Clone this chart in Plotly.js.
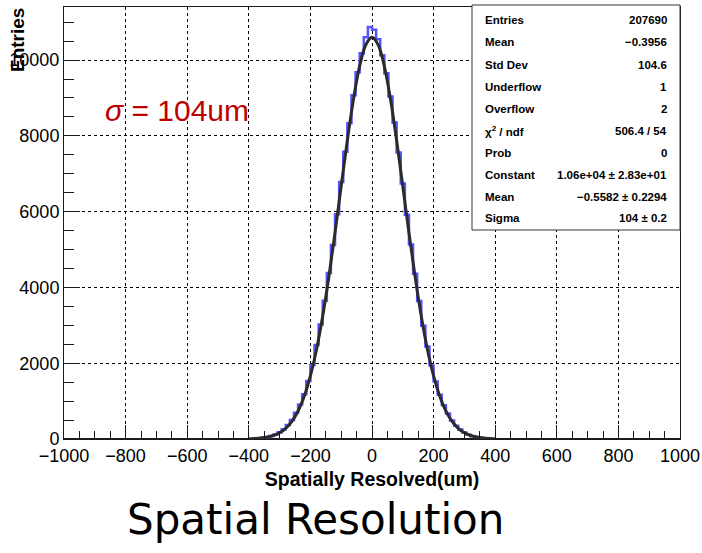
<!DOCTYPE html>
<html>
<head>
<meta charset="utf-8">
<script src="https://cdn.plot.ly/plotly-3.0.1.min.js"></script>
<style>
html,body{margin:0;padding:0;background:#fff;}
#chart{width:702px;height:553px;}
</style>
</head>
<body>
<div id="chart"></div>
<script>
// ---- histogram definition (TH1: 150 bins from -1000 to 1000) ----
const nBins = 150;
const xMin = -1000;
const xMax = 1000;
const firstFilledBin = 46; // index of first non-empty bin (centre -380)
// contents of the non-empty bins (centres -380 ... +380)
const binCounts = [
  10, 18, 30, 45, 80, 120, 180, 260, 370, 500,
  690, 910, 1180, 1530, 1950, 2480, 3020, 3650, 4380, 5120,
  5930, 6780, 7580, 8330, 9070, 9680, 10180, 10600, 10870,
  10800, 10550, 10130, 9650, 9040, 8350, 7560, 6740, 5920,
  5130, 4360, 3640, 2990, 2440, 1940, 1520, 1170, 890, 670,
  490, 350, 250, 170, 115, 75, 50, 30, 20, 12
];

// ---- gaussian fit curve ----
const fitX = [-400,-380,-360,-340,-320,-300,-280,-260,-240,-220,-200,-180,-160,-140,-120,-100,-80,-60,-40,-20,
              0,20,40,60,80,100,120,140,160,180,200,220,240,260,280,300,320,340,360,380,400];
const fitY = [6,13,27,51,93,165,283,466,739,1131,1668,2370,3246,4283,5447,6676,7885,8975,9844,10406,
              10600,10400,9840,8970,7880,6670,5440,4280,3240,2365,1665,1128,737,465,282,164,93,51,27,13,6];

// ---- axes ----
const xTicks = [-1000,-800,-600,-400,-200,0,200,400,600,800,1000];
const yTicks = [0,2000,4000,6000,8000,10000];
const yMaxRange = 11400;

// ---- stats box ----
const statLabels = ["Entries","Mean","Std Dev","Underflow","Overflow","χ<sup>2</sup> / ndf","Prob","Constant","Mean","Sigma"];
const statValues = ["207690","−0.3956","104.6","1","2","506.4 / 54","0","1.06e+04 ± 2.83e+01","−0.5582 ± 0.2294","104 ± 0.2"];

const sigmaText = "<i>σ</i> = 104um";
const xTitle = "Spatially Resolved(um)";
const yTitle = "Entries";
const caption = "Spatial Resolution";

// build histogram outline over the filled range (one empty bin either side)
const binW = (xMax - xMin) / nBins;
const hx = [], hy = [];
for (let i = firstFilledBin - 1; i <= firstFilledBin + binCounts.length; i++) {
  hx.push(xMin + (i + 0.5) * binW);
  const j = i - firstFilledBin;
  hy.push(j >= 0 && j < binCounts.length ? binCounts[j] : 0);
}

// layout geometry (pixels)
const W = 702, H = 553;
const L = 64, R = 22, T = 7, B = 114;
const pw = W - L - R, ph = H - T - B;
const px = v => (v - L) / pw;
const py = v => (H - B - v) / ph;

const boldFont = "Liberation Sans, Arial, sans-serif";

const annotations = [];
const rowY = [20, 42, 64.5, 86.5, 108.5, 130.5, 152.5, 174.5, 196.5, 218];
for (let i = 0; i < statLabels.length; i++) {
  annotations.push({xref:'paper', yref:'paper', x:px(483), y:py(rowY[i]), xanchor:'left', yanchor:'middle',
    text:'<b>'+statLabels[i]+'</b>', showarrow:false, font:{family:boldFont, size:11.5, color:'#000'}});
  annotations.push({xref:'paper', yref:'paper', x:px(669), y:py(rowY[i]), xanchor:'right', yanchor:'middle',
    text:'<b>'+statValues[i]+'</b>', showarrow:false, font:{family:boldFont, size:11.5, color:'#000'}});
}
annotations.push({xref:'paper', yref:'paper', x:px(103), y:py(111), xanchor:'left', yanchor:'middle',
  text:sigmaText, showarrow:false, font:{family:"Liberation Sans, Arial, sans-serif", size:30, color:'#c00000'}});
annotations.push({xref:'paper', yref:'paper', x:px(18), y:py(40), xanchor:'center', yanchor:'middle', textangle:-90,
  text:'<b>'+yTitle+'</b>', showarrow:false, font:{family:boldFont, size:19, color:'#000'}});
annotations.push({xref:'paper', yref:'paper', x:px(315), y:py(519), xanchor:'center', yanchor:'middle',
  text:caption, showarrow:false, font:{family:"DejaVu Sans, sans-serif", size:42, color:'#000'}});

const traces = [
  {x:hx, y:hy, type:'scatter', mode:'lines', line:{shape:'hvh', color:'rgb(85,85,255)', width:2.5},
   hoverinfo:'skip', showlegend:false},
  {x:fitX, y:fitY, type:'scatter', mode:'lines', line:{shape:'spline', color:'#2b2b2b', width:3},
   hoverinfo:'skip', showlegend:false}
];

const axisCommon = {
  showline:true, linecolor:'#1a1a1a', linewidth:1, mirror:true,
  ticks:'inside', tickcolor:'#1a1a1a', tickwidth:1,
  showgrid:true, gridcolor:'#000', gridwidth:1, griddash:'dot',
  zeroline:false, tickformat:'d',
  tickfont:{family:boldFont, size:18, color:'#000'}
};

const layout = {
  width:W, height:H,
  margin:{l:L, r:R, t:T, b:B, pad:0},
  paper_bgcolor:'#fff', plot_bgcolor:'#fff',
  showlegend:false,
  xaxis: Object.assign({}, axisCommon, {
    range:[xMin, xMax], tickmode:'array', tickvals:xTicks, ticklen:14,
    minor:{dtick:50, ticklen:8, ticks:'inside', tickcolor:'#1a1a1a', showgrid:false},
    title:{text:'<b>'+xTitle+'</b>', font:{family:boldFont, size:19.5, color:'#000'}, standoff:7}
  }),
  yaxis: Object.assign({}, axisCommon, {
    range:[0, yMaxRange], tickmode:'array', tickvals:yTicks, ticklen:16,
    minor:{dtick:500, ticklen:10, ticks:'inside', tickcolor:'#1a1a1a', showgrid:false}
  }),
  shapes:[
    {type:'rect', xref:'paper', yref:'paper', x0:px(472), x1:px(680), y0:py(230), y1:py(5),
     line:{color:'#333', width:1}, fillcolor:'#fff', layer:'above'},
    {type:'line', xref:'paper', yref:'paper', x0:0, x1:1, y0:0, y1:0,
     line:{color:'#1a1a1a', width:2}, layer:'below'}
  ],
  annotations: annotations
};

Plotly.newPlot('chart', traces, layout, {displayModeBar:false, staticPlot:true});
</script>
</body>
</html>
